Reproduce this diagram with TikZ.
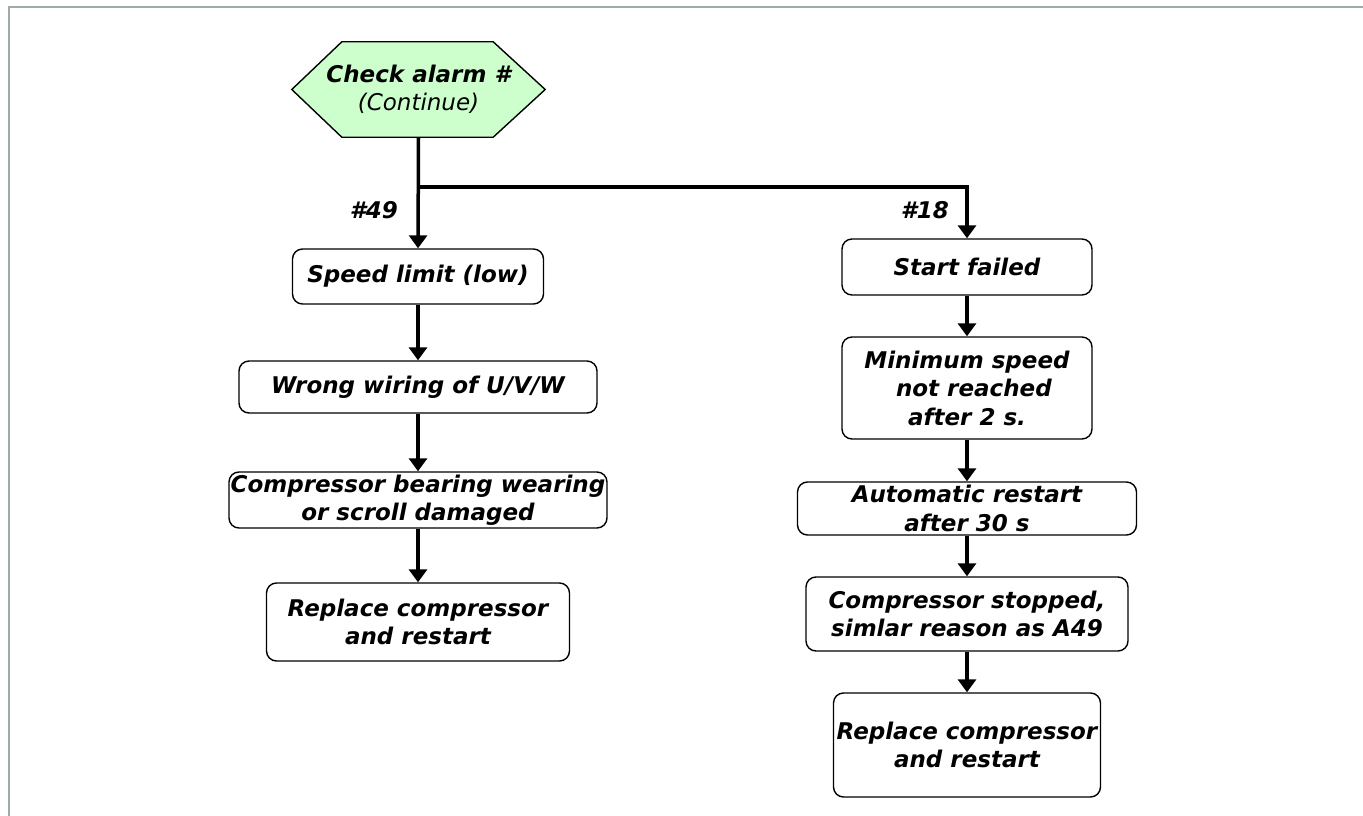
\documentclass[tikz,border=0pt]{standalone}
\usepackage{fontspec}
\setmainfont{DejaVu Sans}
\usetikzlibrary{arrows.meta,backgrounds}
\definecolor{hexgreen}{HTML}{CCFFCC}
\definecolor{framegray}{HTML}{9EA9AB}
\tikzset{
  boxfont/.style={font=\fontsize{23}{28.5}\selectfont\bfseries\itshape},
  stepbox/.style={draw, line width=1.4pt, rounded corners=10pt, align=center, inner sep=0pt, boxfont},
  flow/.style={line width=3.5pt, -{Triangle[width=18pt,length=13pt]}},
  branchlabel/.style={boxfont, inner sep=0pt},
}
\begin{document}
\begin{tikzpicture}[x=1pt,y=-1pt]
\useasboundingbox (0,0) rectangle (1363,816);
\draw[framegray, line width=2pt] (9,816) -- (9,7) -- (1363,7);

% hexagon start
\node[minimum width=253pt, minimum height=95pt, inner sep=0pt, align=center, boxfont] (chk) at (418.5,89.5)
  {\raisebox{-2pt}{Check alarm \#}\\{\mdseries\itshape\raisebox{-2pt}{(Continue)}}};
\begin{scope}[on background layer]
\draw[line width=1.4pt, fill=hexgreen] (chk.west) -- ([xshift=50pt]chk.north west) -- ([xshift=-52pt]chk.north east) -- (chk.east) -- ([xshift=-52pt]chk.south east) -- ([xshift=50pt]chk.south west) -- cycle;
\end{scope}

% left column
\node[stepbox, minimum width=251pt, minimum height=55pt] (speed) at (418,276.5) {Speed limit (low)};
\node[stepbox, minimum width=358pt, minimum height=52pt] (wiring) at (418,387) {Wrong wiring of U/V/W};
\node[stepbox, minimum width=378pt, minimum height=56pt] (bearing) at (418,500) {Compressor bearing wearing\\or scroll damaged};
\node[stepbox, minimum width=303pt, minimum height=78pt] (replL) at (418,622) {Replace compressor\\and restart};

% right column
\node[stepbox, minimum width=250pt, minimum height=56pt] (start) at (967,267) {Start failed};
\node[stepbox, minimum width=250pt, minimum height=102pt] (minsp) at (967,388) {Minimum speed\\\hspace{0.6em}not reached\\after 2 s.};
\node[stepbox, minimum width=339pt, minimum height=53pt] (auto) at (967,508.5) {Automatic restart\\after 30 s};
\node[stepbox, minimum width=322pt, minimum height=74pt] (stopped) at (967,614) {Compressor stopped,\\simlar reason as A49};
\node[stepbox, minimum width=267pt, minimum height=104pt] (replR) at (967,745) {Replace compressor\\and restart};

% connectors
\coordinate (br) at (chk.south |- 0,187);
\draw[flow] (chk.south) -- (speed.north);
\draw[flow] (br) -| (start.north);
\draw[flow] (speed) -- (wiring);
\draw[flow] (wiring) -- (bearing);
\draw[flow] (bearing) -- (replL);
\draw[flow] (start) -- (minsp);
\draw[flow] (minsp) -- (auto);
\draw[flow] (auto) -- (stopped);
\draw[flow] (stopped) -- (replR);

\node[branchlabel, anchor=east] (l49) at (398,210) {\#49};
\node[branchlabel, anchor=east] (l18) at (949,210) {\#18};
\end{tikzpicture}
\end{document}
